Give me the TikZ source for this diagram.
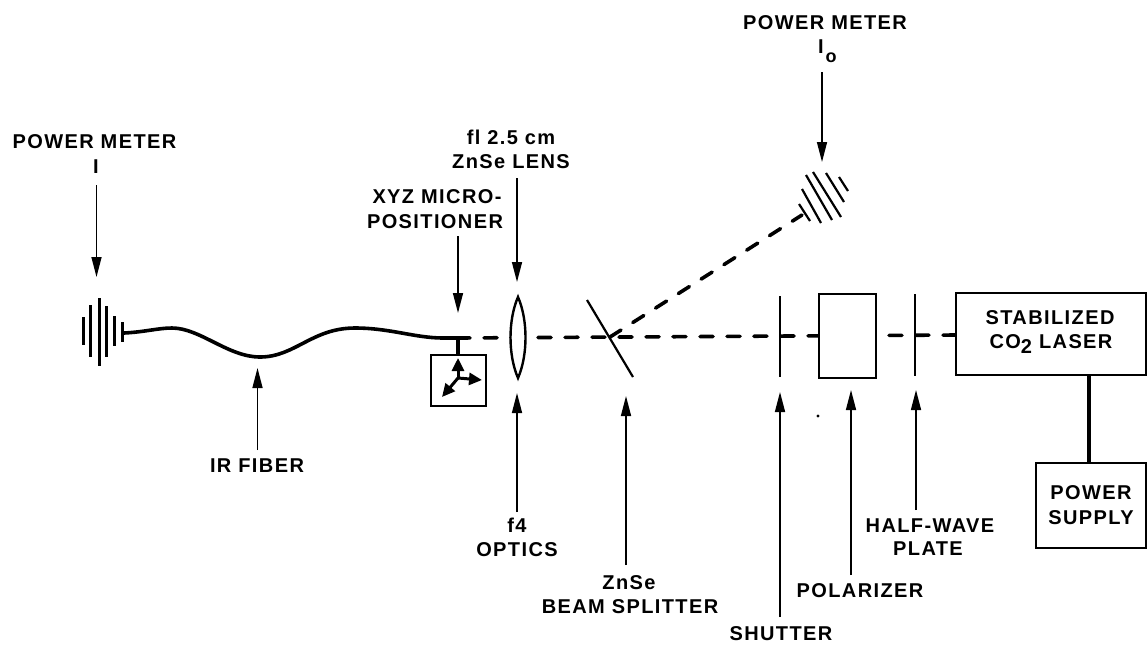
\documentclass[tikz,border=0pt]{standalone}
\usepackage{fontspec}
\setmainfont{Liberation Sans}
\newfontfamily\lblfont{Liberation Sans Bold}[LetterSpace=7]
\usetikzlibrary{arrows.meta}
\tikzset{
 x=1pt,y=-1pt,
 lbl/.style={inner sep=0pt,font=\lblfont\fontsize{20}{22}\selectfont,text=black,anchor=center},
 ptr/.style={line width=1.5pt,-{Triangle[length=20pt,width=10pt]}},
 fine/.style={line width=2.2pt},
 boxx/.style={draw,fill=white,line width=2.8pt,inner sep=0pt,minimum width=0pt},
 beam/.style={line width=3.6pt,line cap=round,dash pattern=on 13pt off 14pt},
 fiber/.style={line width=3.6pt,line cap=round},
 xyzarrow/.style={line width=3pt,-{Triangle[length=13pt,width=12pt]}},
}
\begin{document}
\begin{tikzpicture}
\useasboundingbox (0,0) rectangle (1147,649);
% coordinates
\coordinate (fs) at (124,333);
\coordinate (fe) at (443,338);
\coordinate (tee) at (458,338);
\coordinate (xyzc) at (458,378);
\coordinate (split) at (610,337);
\coordinate (det) at (802,215);
\coordinate (beamend) at (956,335);
% labels
\node[lbl] (pm1) at (94.5,142) {POWER METER};
\node[lbl] (i1) at (96,167) {I};
\node[lbl] (pm0) at (825,23) {POWER METER};
\node[lbl] (i0) at (821,47) {I};
\node[lbl,font=\lblfont\fontsize{18}{20}\selectfont] (o0) at (831,58) {o};
\node[lbl] (xyz1) at (437,197) {XYZ MICRO-};
\node[lbl] (xyz2) at (435,222) {POSITIONER};
\node[lbl] (fl1) at (511,137) {fl 2.5 cm};
\node[lbl] (fl2) at (511,162) {ZnSe LENS};
\node[lbl] (ir) at (257,466) {IR FIBER};
\node[lbl] (f4) at (517,525) {f4};
\node[lbl] (opt) at (517,550) {OPTICS};
\node[lbl] (zn) at (629,583) {ZnSe};
\node[lbl] (bs) at (630,607) {BEAM SPLITTER};
\node[lbl] (sh) at (781,634) {SHUTTER};
\node[lbl] (po) at (860,591) {POLARIZER};
\node[lbl] (hw) at (930,526) {HALF-WAVE};
\node[lbl] (pl) at (928,549) {PLATE};
% beams (under the boxes)
\draw[fiber] (fs) .. controls (145,332) and (158,328) .. (172,328)
  .. controls (200,328) and (228,357) .. (260,357)
  .. controls (295,357) and (312,328) .. (355,328)
  .. controls (390,328) and (415,338) .. (fe) -- (tee);
\draw[beam] (beamend) -- (tee);
\draw[beam] (split) -- (det);
% boxes
\node[boxx,minimum width=57pt,minimum height=84pt] (polbox) at (847.5,336) {};
\node[boxx,minimum width=190pt,minimum height=82pt] (laser) at (1051,334) {};
\node[lbl] (st) at (1050,318) {STABILIZED};
\node[lbl] (co) at (1051,344) {CO\raisebox{-5pt}{2} LASER};
\node[boxx,minimum width=110pt,minimum height=85pt] (psu) at (1091,505.5) {};
\node[lbl] (pw) at (1091,493) {POWER};
\node[lbl] (su) at (1091,518) {SUPPLY};
\draw[line width=3.6pt] (laser.south -| 1089,0) -- (psu.north -| 1089,0);
% detector I
\foreach \x/\a/\b in {83/317/345,90/305/357,99/298/366,106/306/357,114/316/346,122/322/342}
  \draw[line width=3pt] (\x,\a) -- (\x,\b);
% detector Io
\draw[line width=2.2pt] (799,204) -- (810,221) (802,189) -- (821,223) (806,175) -- (832,220)
  (813,172) -- (841,217) (826,173) -- (844,202) (839,177) -- (848,191);
% micropositioner
\node[boxx,line width=2.4pt,minimum width=55pt,minimum height=51pt] (xyz) at (458.5,380.5) {};
\draw[line width=3.4pt] (tee) -- (xyz.north -| tee);
\draw[xyzarrow] (xyzc) -- (458,358);
\draw[xyzarrow] (xyzc) -- (482,380);
\draw[xyzarrow] (xyzc) -- (442,397);
% lens
\draw[line width=2.4pt,fill=white] (518,297) .. controls (508,320) and (508,355) .. (518,378)
  .. controls (528,355) and (528,320) .. (518,297) -- cycle;
% optical elements
\draw[fine] (587,300) -- (633,377);
\draw[fine] (780,296) -- (780,377);
\draw[fine] (915,294) -- (915,376);
% pointers
\draw[ptr] (96.5,185) -- (96.5,277);
\draw[ptr] (822,72) -- (822,162);
\draw[ptr] (458,236) -- (458,313);
\draw[ptr] (517,178) -- (517,282);
\draw[ptr] (257.5,450) -- (257.5,368);
\draw[ptr] (517,512) -- (517,393);
\draw[ptr] (626,565) -- (626,396);
\draw[ptr] (780,617) -- (780,392);
\draw[ptr] (851,575) -- (851,390);
\draw[ptr] (916,510) -- (916,390);
\fill (818,416) circle (1.6pt);
\end{tikzpicture}
\end{document}
